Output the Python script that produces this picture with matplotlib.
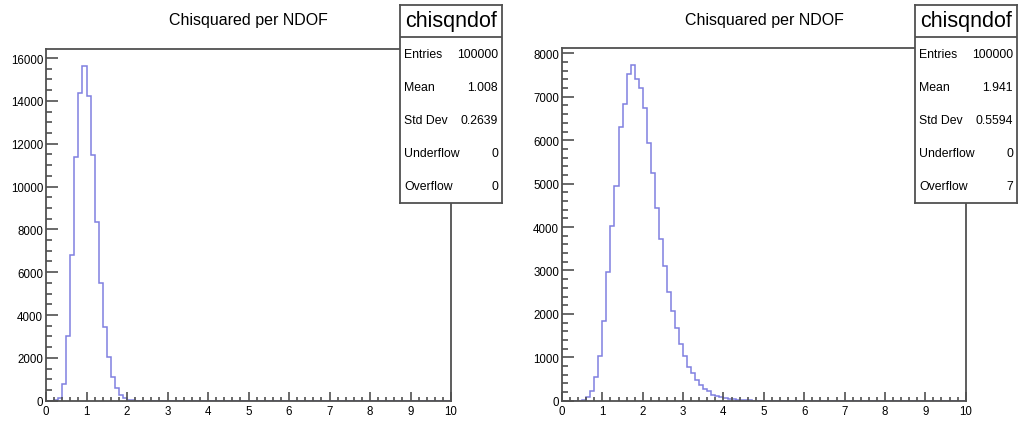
import numpy as np
import matplotlib
matplotlib.use("Agg")
import matplotlib.pyplot as plt
from matplotlib.ticker import MultipleLocator

plt.rcParams['font.family'] = ['Liberation Sans', 'DejaVu Sans']

# ---------------- data ----------------
bin_edges = np.linspace(0, 10, 101)

left_counts = [0, 0, 10, 120, 780, 3030, 6820, 11400, 14390, 15640,
               14240, 11480, 8330, 5490, 3420, 2020, 1090, 580, 280, 110,
               50, 20, 8]
right_counts = [0, 0, 0, 0, 0, 15, 77, 230, 553, 1036,
                1842, 2956, 4015, 4952, 6295, 6832, 7523, 7731, 7408, 7201,
                6733, 5934, 5243, 4437, 3723, 3109, 2495, 2073, 1666, 1305,
                1036, 768, 637, 484, 361, 269, 215, 130, 100, 92,
                55, 40, 30, 25, 20, 10, 6, 4, 2, 1]

hist_title = "Chisquared per NDOF"
stats_name = "chisqndof"
stat_labels = ["Entries", "Mean", "Std Dev", "Underflow", "Overflow"]
left_stats = ["100000", "1.008", "0.2639", "0", "0"]
right_stats = ["100000", "1.941", "0.5594", "0", "7"]
x_ticks = list(range(0, 11))
left_y_ticks = list(range(0, 16001, 2000))
right_y_ticks = list(range(0, 8001, 1000))

# ---------------- figure ----------------
W, H = 1025, 427
fig = plt.figure(figsize=(W / 100, H / 100), dpi=100)
fig.patch.set_facecolor('white')

line_color = '#8080e0'
spine_color = '#505050'


def px_rect(x0, y0, x1, y1):
    return [x0 / W, 1 - y1 / H, (x1 - x0) / W, (y1 - y0) / H]


def make_panel(rect, counts, yticks, ymin_step, title_x, stats_rect, stats_vals):
    ax = fig.add_axes(px_rect(*rect))
    full = np.zeros(len(bin_edges) - 1)
    full[:len(counts)] = counts
    ax.stairs(full, bin_edges, color=line_color, linewidth=1.1)
    ax.set_xlim(bin_edges[0], bin_edges[-1])
    ax.set_ylim(0, max(counts) * 1.05)
    ax.set_xticks(x_ticks)
    ax.set_yticks(yticks)
    ax.xaxis.set_minor_locator(MultipleLocator(0.2))
    ax.yaxis.set_minor_locator(MultipleLocator(ymin_step))
    ax.tick_params(which='major', direction='in', color=spine_color,
                   labelsize=8.3, width=1.2)
    ax.tick_params(axis='y', which='major', length=8.5, pad=2)
    ax.tick_params(axis='y', which='minor', direction='in', length=4.3,
                   width=1.2, color=spine_color)
    ax.tick_params(axis='x', which='major', length=6.8, pad=3)
    ax.tick_params(axis='x', which='minor', direction='in', length=3.2,
                   width=1.2, color=spine_color)
    for s in ax.spines.values():
        s.set_color(spine_color)
        s.set_linewidth(1.3)
    fig.text(title_x / W, 1 - 21 / H, hist_title, ha='center', va='center',
             fontsize=11.5)

    # stats box
    sx0, sy0, sx1, sy1 = stats_rect
    sb = fig.add_axes(px_rect(sx0, sy0, sx1, sy1))
    sb.set_xlim(0, 1)
    sb.set_ylim(sy1 - sy0, 0)
    sb.set_xticks([])
    sb.set_yticks([])
    sb.set_facecolor('white')
    for s in sb.spines.values():
        s.set_color(spine_color)
        s.set_linewidth(1.3)
    sb.axhline(32, color=spine_color, linewidth=1.3)
    sb.text(0.5, 16, stats_name, ha='center', va='center', fontsize=15.5)
    for i, (lab, val) in enumerate(zip(stat_labels, stats_vals)):
        yy = 49 + 33 * i
        sb.text(0.04, yy, lab, ha='left', va='center', fontsize=8.8)
        sb.text(0.96, yy, val, ha='right', va='center', fontsize=8.8)
    return ax


make_panel((46, 50, 451, 401.7), left_counts, left_y_ticks, 500, 248,
           (400, 6, 502, 204), left_stats)
make_panel((562, 49.3, 965.7, 401.7), right_counts, right_y_ticks, 200, 764,
           (915, 6, 1017, 204), right_stats)

fig.savefig("out.png", dpi=100, facecolor='white')
